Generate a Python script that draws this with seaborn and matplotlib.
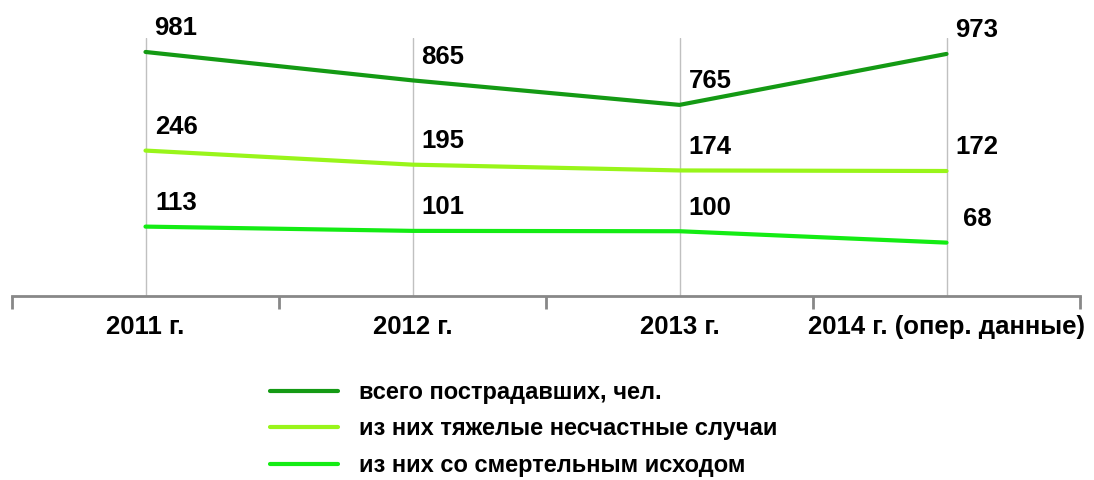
import matplotlib
matplotlib.use('Agg')
import matplotlib.pyplot as plt
import seaborn as sns
import numpy as np

# data
years = ['2011 г.', '2012 г.', '2013 г.', '2014 г. (опер. данные)']
total = [981, 865, 765, 973]
severe = [246, 195, 174, 172]
fatal = [113, 101, 100, 68]

names = ['всего пострадавших, чел.',
         'из них тяжелые несчастные случаи',
         'из них со смертельным исходом']
colors = ['#149a14', '#99f51a', '#14ec14']
# each series sits on its own y scale (as in the original picture)
ylims = [(-15, 1038), (-281, 654), (-82, 643)]

sns.set_style('white')
plt.rcParams['font.family'] = ['Liberation Sans', 'DejaVu Sans']
plt.rcParams['font.weight'] = 'bold'
plt.rcParams['text.color'] = 'black'

fig = plt.figure(figsize=(10.94, 4.8), dpi=100)
ax = fig.add_axes([12 / 1094, 1 - 296 / 480, 1068 / 1094, 258 / 480])
x = np.arange(len(years))

axes = [ax, ax.twinx(), ax.twinx()]
handles = []
for a, vals, name, c, lim in zip(axes, [total, severe, fatal], names, colors, ylims):
    sns.lineplot(x=x, y=vals, ax=a, color=c, lw=3, label=name, legend=False)
    a.set_ylim(lim)
    handles.append(a.lines[-1])
    for xi, v in zip(x, vals):
        a.annotate(str(v), (xi, v), xytext=(22, 17), textcoords='offset points',
                   ha='center', va='center', fontsize=18.5, fontweight='bold',
                   color='black', annotation_clip=False)

for a in axes:
    a.set_xlim(-0.5, 3.5)
    for s in ['top', 'right', 'left']:
        a.spines[s].set_visible(False)
    a.set_yticks([])
    a.set_ylabel('')
    a.set_zorder(2)
ax.set_zorder(1)

ax.spines['bottom'].set_color('#888888')
ax.spines['bottom'].set_linewidth(2)
ax.set_xticks(x)
ax.set_xticklabels(years, fontsize=18.5, fontweight='bold')
ax.set_xticks(np.arange(-0.5, 4, 1), minor=True)
ax.tick_params(axis='x', which='major', bottom=True, length=0, pad=14, labelcolor='black')
ax.tick_params(axis='x', which='minor', bottom=True, length=9, width=2,
               color='#888888', direction='out')
ax.grid(axis='x', which='major', color='#c0c0c0', lw=1)
ax.grid(axis='y', visible=False)
for a in axes[1:]:
    a.spines['bottom'].set_visible(False)
    a.tick_params(axis='x', which='both', length=0, labelbottom=False)

fig.legend(handles=handles, labels=names, loc='center left',
           bbox_to_anchor=(270 / 1094, 1 - 429 / 480), frameon=False,
           prop={'weight': 'bold', 'size': 17}, labelcolor='black',
           handlelength=2.9, handletextpad=0.85, labelspacing=0.58,
           borderpad=0, borderaxespad=0)

fig.savefig('out.png', dpi=100, facecolor='white')
